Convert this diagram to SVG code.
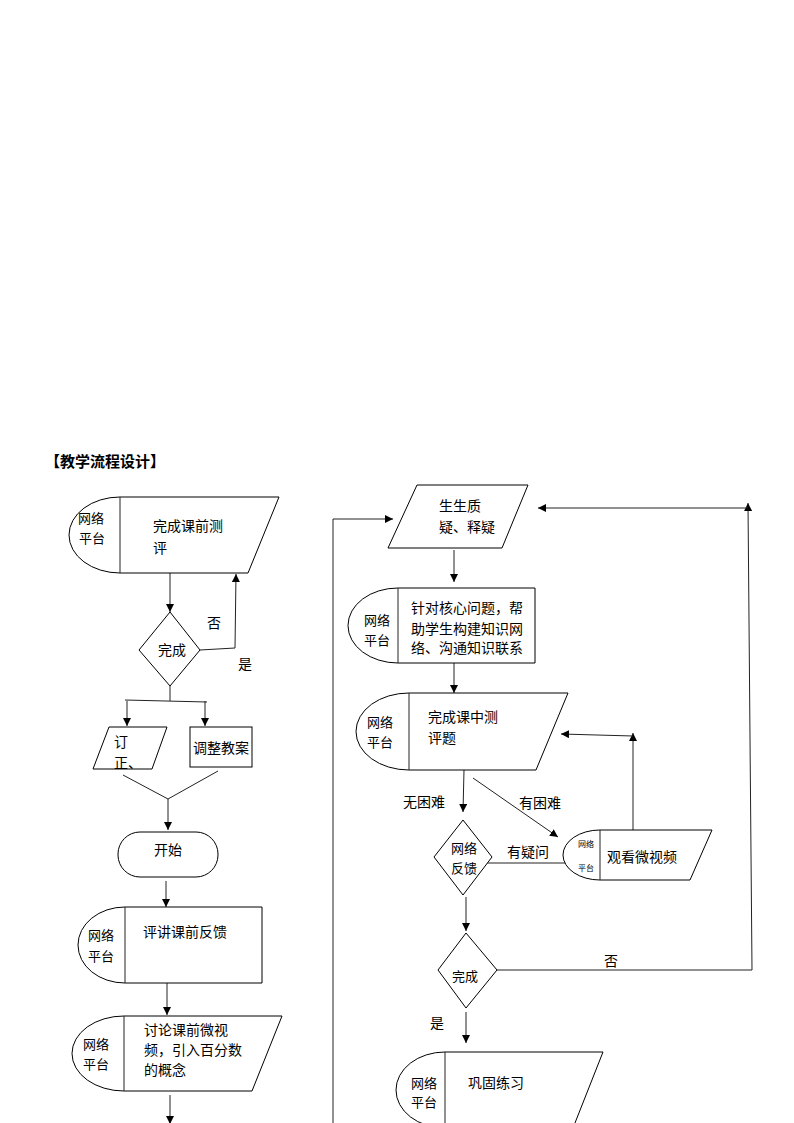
<svg xmlns="http://www.w3.org/2000/svg" width="794" height="1123" viewBox="0 0 794 1123">
<defs>
<marker id="ah" viewBox="0 0 10 10" refX="10" refY="5" markerWidth="8" markerHeight="8" markerUnits="userSpaceOnUse" orient="auto">
<path d="M0,0 L10,5 L0,10 z" fill="#000"/>
</marker>
<style>
.s{fill:#fff;stroke:#000;stroke-width:1}
.c{fill:none;stroke:#222;stroke-width:1}
.ca{fill:none;stroke:#222;stroke-width:1;marker-end:url(#ah)}
.t{font-family:"Noto Sans CJK SC","Noto Sans",sans-serif;font-size:14px;fill:#000}
.n{font-family:"Noto Sans CJK SC","Noto Sans",sans-serif;font-size:13px;fill:#000}
.sm{font-family:"Noto Sans CJK SC","Noto Sans",sans-serif;font-size:8px;fill:#000}
.h{font-family:"Noto Sans CJK SC","Noto Sans",sans-serif;font-size:15px;font-weight:bold;fill:#000}
</style>
</defs>
<rect width="794" height="1123" fill="#fff"/>
<text class="h" x="45" y="467">【教学流程设计】</text>

<g id="connectors">
<path class="ca" d="M170,573 L170,612"/>
<path class="ca" d="M200,650 L235,648 L236,574"/>
<path class="c" d="M170,686 L170,701"/>
<path class="c" d="M125,700 L207,702"/>
<path class="ca" d="M127,701 L127,726"/>
<path class="ca" d="M205,701 L205,726"/>
<path class="c" d="M123,775 L168,799 L218,771"/>
<path class="ca" d="M168,799 L168,830"/>
<path class="ca" d="M166,881 L166,907"/>
<path class="ca" d="M167,983 L167,1015"/>
<path class="ca" d="M170,1095 L170,1124"/>
<path class="c" d="M333,1123 L333,519"/>
<path class="ca" d="M333,519 L393,519"/>
<path class="ca" d="M454,550 L454,582"/>
<path class="ca" d="M454,663 L454,693"/>
<path class="ca" d="M464,770 L463,812"/>
<path class="ca" d="M473,778 L558,837"/>
<path class="c" d="M487,863 L567,863"/>
<path class="ca" d="M633,830 L633,733"/>
<path class="ca" d="M633,736 L561,734"/>
<path class="ca" d="M466,897 L466,931"/>
<path class="c" d="M497,970 L752,970"/>
<path class="ca" d="M752,970 L748,503"/>
<path class="ca" d="M748,508 L538,508"/>
<path class="ca" d="M466,1012 L466,1043"/>
</g>

<g id="n1">
<path class="s" d="M120,497 L279,497 L248,573 L120,573 A51,38 0 0 1 120,497 Z"/>
<path class="c" d="M120,497 L120,573"/>
<text class="n" x="78" y="523">网络</text>
<text class="n" x="79" y="543">平台</text>
<text class="t" x="153" y="531">完成课前测</text>
<text class="t" x="153" y="553">评</text>
</g>

<g id="d1">
<path class="s" d="M170,612 L200,650 L170,686 L139,650 Z"/>
<text class="t" x="172" y="655" text-anchor="middle">完成</text>
</g>
<text class="t" x="207" y="628">否</text>
<text class="t" x="238" y="669">是</text>

<g id="n2">
<path class="s" d="M109,727 L167,727 L152,769 L93,769 Z"/>
<text class="t" x="114" y="747">订</text>
<text class="t" x="114" y="768">正、</text>
</g>

<g id="n3">
<rect class="s" x="190" y="727" width="62" height="40"/>
<text class="t" x="221" y="753" text-anchor="middle">调整教案</text>
</g>

<g id="n4">
<rect class="s" x="118" y="832" width="100" height="45" rx="22" ry="22"/>
<text class="t" x="168" y="855" text-anchor="middle">开始</text>
</g>

<g id="n5">
<path class="s" d="M125,907 L262,907 L262,983 L125,983 A47,38 0 0 1 125,907 Z"/>
<path class="c" d="M125,907 L125,983"/>
<text class="n" x="88" y="940">网络</text>
<text class="n" x="88" y="961">平台</text>
<text class="t" x="143" y="937">评讲课前反馈</text>
</g>

<g id="n6">
<path class="s" d="M124,1016 L282,1016 L252,1091 L124,1091 A52,37.5 0 0 1 124,1016 Z"/>
<path class="c" d="M124,1016 L124,1091"/>
<text class="n" x="83" y="1049">网络</text>
<text class="n" x="83" y="1069">平台</text>
<text class="t" x="144" y="1035">讨论课前微视</text>
<text class="t" x="144" y="1055">频，引入百分数</text>
<text class="t" x="144" y="1075">的概念</text>
</g>

<g id="n7">
<path class="s" d="M417,485 L528,485 L502,548 L388,548 Z"/>
<text class="t" x="439" y="511">生生质</text>
<text class="t" x="439" y="532">疑、释疑</text>
</g>

<g id="n8">
<path class="s" d="M398,588 L535,588 L535,663 L398,663 A50,37.5 0 0 1 398,588 Z"/>
<path class="c" d="M398,588 L398,663"/>
<text class="n" x="364" y="625">网络</text>
<text class="n" x="364" y="645">平台</text>
<text class="t" x="411" y="613">针对核心问题，帮</text>
<text class="t" x="411" y="634">助学生构建知识网</text>
<text class="t" x="411" y="653">络、沟通知识联系</text>
</g>

<g id="n9">
<path class="s" d="M409,693 L568,693 L536,770 L409,770 A53,38.5 0 0 1 409,693 Z"/>
<path class="c" d="M409,693 L409,770"/>
<text class="n" x="367" y="727">网络</text>
<text class="n" x="367" y="747">平台</text>
<text class="t" x="428" y="722">完成课中测</text>
<text class="t" x="428" y="743">评题</text>
</g>
<text class="t" x="403" y="807">无困难</text>
<text class="t" x="519" y="808">有困难</text>

<g id="d2">
<path class="s" d="M463,820 L492,857 L463,895 L434,857 Z"/>
<text class="n" x="451" y="853">网络</text>
<text class="n" x="451" y="873">反馈</text>
</g>
<text class="t" x="507" y="857">有疑问</text>

<g id="n10">
<path class="s" d="M600,830 L712,830 L690,880 L600,880 A37,25 0 0 1 600,830 Z"/>
<path class="c" d="M600,830 L600,880"/>
<text class="sm" x="578" y="847">网络</text>
<text class="sm" x="578" y="871">平台</text>
<text class="t" x="607" y="862">观看微视频</text>
</g>

<g id="d3">
<path class="s" d="M466,933 L497,970 L466,1008 L438,970 Z"/>
<text class="n" x="465" y="981" text-anchor="middle">完成</text>
</g>
<text class="t" x="604" y="966">否</text>
<text class="t" x="430" y="1028">是</text>

<g id="n11">
<path class="s" d="M445,1052 L603,1052 L573,1128 L445,1128 A49,38 0 0 1 445,1052 Z"/>
<path class="c" d="M445,1052 L445,1128"/>
<text class="n" x="411" y="1088">网络</text>
<text class="n" x="411" y="1107">平台</text>
<text class="t" x="468" y="1088">巩固练习</text>
</g>
</svg>
